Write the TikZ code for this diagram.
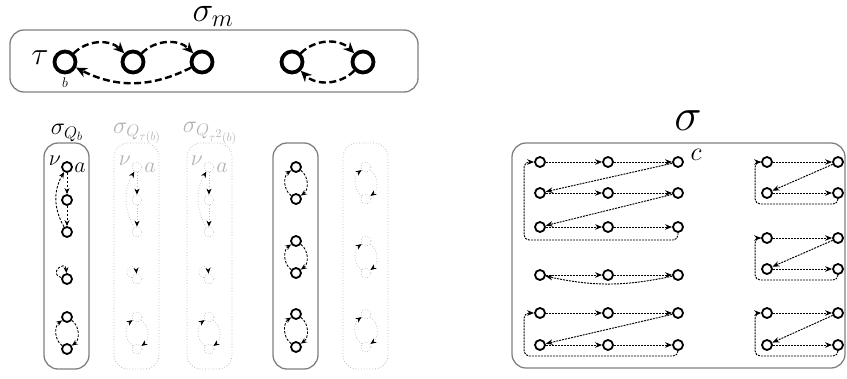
\RequirePackage{fix-cm}
\documentclass[tikz,border=0pt]{standalone}
\usepackage{amsmath,amssymb}
\usetikzlibrary{arrows.meta,calc}

\tikzset{
	bignode/.style={circle,draw,line width=3.8pt,minimum size=21pt,inner sep=0pt},
	smallnode/.style={circle,draw,line width=1.8pt,minimum size=10pt,inner sep=0pt},
	fadenode/.style={circle,draw=gray!55,dotted,line width=0.7pt,minimum size=10pt,inner sep=0pt},
	bigarr/.style={line width=2.4pt,dash pattern=on 7pt off 3.5pt,-{Stealth[length=11pt,width=10pt]}},
	dasharr/.style={line width=0.9pt,dash pattern=on 2.5pt off 1.5pt,-{Stealth[length=6pt,width=5pt]}},
	fadearr/.style={draw=gray!55,dotted,line width=0.7pt,-{Stealth[length=6pt,width=5pt,color=black]}},
	thinarr/.style={line width=0.95pt,dash pattern=on 2pt off 1pt,-{Stealth[length=7pt,width=5.5pt]}},
	fullbox/.style={draw=gray,line width=1.3pt,rounded corners=14pt},
	fadebox/.style={draw=gray!55,dotted,line width=0.8pt,rounded corners=14pt},
	huge/.style={font=\fontsize{35}{37}\selectfont},
	mid/.style={font=\fontsize{24}{26}\selectfont},
	small/.style={font=\fontsize{22}{24}\selectfont}
}

\begin{document}
\begin{tikzpicture}[x=1pt,y=1pt]
	\useasboundingbox (0,0) rectangle (847,-378);

	% sigma_m
	\draw[fullbox] (10,-30) rectangle (418,-92);
	\node[huge,anchor=base,inner sep=0pt] (sm) at (213,-21) {$\sigma_m$};
	\node[bignode] (t1) at (65,-62) {};
	\node[bignode] (t2) at (133,-62) {};
	\node[bignode] (t3) at (202,-62) {};
	\node[bignode] (t4) at (292,-62) {};
	\node[bignode] (t5) at (363,-62) {};
	\node[font=\fontsize{32}{34}\selectfont] (tau) at (40,-58) {$\tau$};
	\node[font=\fontsize{14}{16}\selectfont] (lb) at (65,-83) {$b$};
	\draw[bigarr] (t1) to[bend left=45] (t2);
	\draw[bigarr] (t2) to[bend left=45] (t3);
	\draw[bigarr] (t3) to[bend left=27] (t1);
	\draw[bigarr] (t4) to[bend left=45] (t5);
	\draw[bigarr] (t5) to[bend left=45] (t4);

	% the Q columns
	\draw[fullbox] (44,-143) rectangle (89,-369);
	\draw[fadebox] (114,-143) rectangle (159,-369);
	\draw[fadebox] (187,-143) rectangle (232,-369);
	\node[mid] (lq) at (67,-133) {$\sigma_{Q_b}$};
	\node[mid,gray!60] (lr) at (137,-133) {$\sigma_{Q_{\tau(b)}}$};
	\node[mid,gray!60] (ls) at (210,-133) {$\sigma_{Q_{\tau^2(b)}}$};
	\foreach \c/\x/\nd/\ar/\col in {q/67/smallnode/dasharr/black,r/137/fadenode/fadearr/gray!60,s/209/fadenode/fadearr/gray!60}{
		\node[\nd] (\c1) at (\x,-167) {};
		\node[\nd] (\c2) at (\x,-200) {};
		\node[\nd] (\c3) at (\x,-232) {};
		\node[\nd] (\c4) at (\x,-279) {};
		\node[\nd] (\c5) at (\x,-317) {};
		\node[\nd] (\c6) at (\x,-349) {};
		\node[small,\col] (nu\c) at ($(\c1)+(-12,6)$) {$\nu$};
		\node[small,\col] (a\c) at ($(\c1)+(13,-1)$) {$a$};
		\draw[\ar] (\c1) -- (\c2);
		\draw[\ar] (\c2) -- (\c3);
		\draw[\ar] (\c3) to[bend left=30] (\c1);
		\draw[\ar] (\c4) to[out=165,in=95,min distance=14pt] (\c4);
		\draw[\ar] (\c5) to[bend left=55] (\c6);
		\draw[\ar] (\c6) to[bend left=55] (\c5);
	}

	% the pair columns
	\draw[fullbox] (273,-143) rectangle (318,-369);
	\draw[fadebox] (343,-143) rectangle (388,-369);
	\foreach \c/\x/\nd/\ar in {p/296/smallnode/dasharr,f/366/fadenode/fadearr}{
		\node[\nd] (\c1) at (\x,-167) {};
		\node[\nd] (\c2) at (\x,-199) {};
		\node[\nd] (\c3) at (\x,-241) {};
		\node[\nd] (\c4) at (\x,-273) {};
		\node[\nd] (\c5) at (\x,-314) {};
		\node[\nd] (\c6) at (\x,-347) {};
		\draw[\ar] (\c1) to[bend left=55] (\c2);
		\draw[\ar] (\c2) to[bend left=55] (\c1);
		\draw[\ar] (\c3) to[bend left=55] (\c4);
		\draw[\ar] (\c4) to[bend left=55] (\c3);
		\draw[\ar] (\c5) to[bend left=55] (\c6);
		\draw[\ar] (\c6) to[bend left=55] (\c5);
	}

	% sigma
	\draw[fullbox] (512,-143) rectangle (845,-368);
	\node[font=\fontsize{46}{48}\selectfont] (sg) at (688,-121) {$\sigma$};
	\foreach \i/\x in {1/540,2/608,3/678}{
		\node[smallnode] (u\i) at (\x,-162) {};
		\node[smallnode] (v\i) at (\x,-193) {};
		\node[smallnode] (w\i) at (\x,-227) {};
		\node[smallnode] (e\i) at (\x,-275) {};
		\node[smallnode] (h\i) at (\x,-313) {};
		\node[smallnode] (k\i) at (\x,-345) {};
	}
	\foreach \i/\x in {1/767,2/838}{
		\node[smallnode] (ra\i) at (\x,-162) {};
		\node[smallnode] (rb\i) at (\x,-193) {};
		\node[smallnode] (rc\i) at (\x,-238) {};
		\node[smallnode] (rd\i) at (\x,-269) {};
		\node[smallnode] (re\i) at (\x,-313) {};
		\node[smallnode] (rf\i) at (\x,-345) {};
	}
	\node[font=\fontsize{26}{28}\selectfont] (lc) at (696,-155) {$c$};

	\draw[thinarr] (u1) -- (u2);
	\draw[thinarr] (u2) -- (u3);
	\draw[thinarr] (u3) -- (v1);
	\draw[thinarr] (v1) -- (v2);
	\draw[thinarr] (v2) -- (v3);
	\draw[thinarr] (v3) -- (w1);
	\draw[thinarr] (w1) -- (w2);
	\draw[thinarr] (w2) -- (w3);
	\draw[thinarr,rounded corners=5pt] (w3.south) |- ($(w1.west)+(-10,-13)$) |- (u1);

	\draw[thinarr] (e1) -- (e2);
	\draw[thinarr] (e2) -- (e3);
	\draw[thinarr] (e3) to[bend left=12] (e1);

	\draw[thinarr] (h1) -- (h2);
	\draw[thinarr] (h2) -- (h3);
	\draw[thinarr] (h3) -- (k1);
	\draw[thinarr] (k1) -- (k2);
	\draw[thinarr] (k2) -- (k3);
	\draw[thinarr,rounded corners=5pt] (k3.south) |- ($(k1.west)+(-10,-11)$) |- (h1);

	\foreach \s/\t in {ra/rb,rc/rd,re/rf}{
		\draw[thinarr] (\s1) -- (\s2);
		\draw[thinarr] (\s2) -- (\t1);
		\draw[thinarr] (\t1) -- (\t2);
		\draw[thinarr,rounded corners=5pt] (\t2.south) |- ($(\t1.west)+(-6,-11)$) |- (\s1);
	}
\end{tikzpicture}
\end{document}
